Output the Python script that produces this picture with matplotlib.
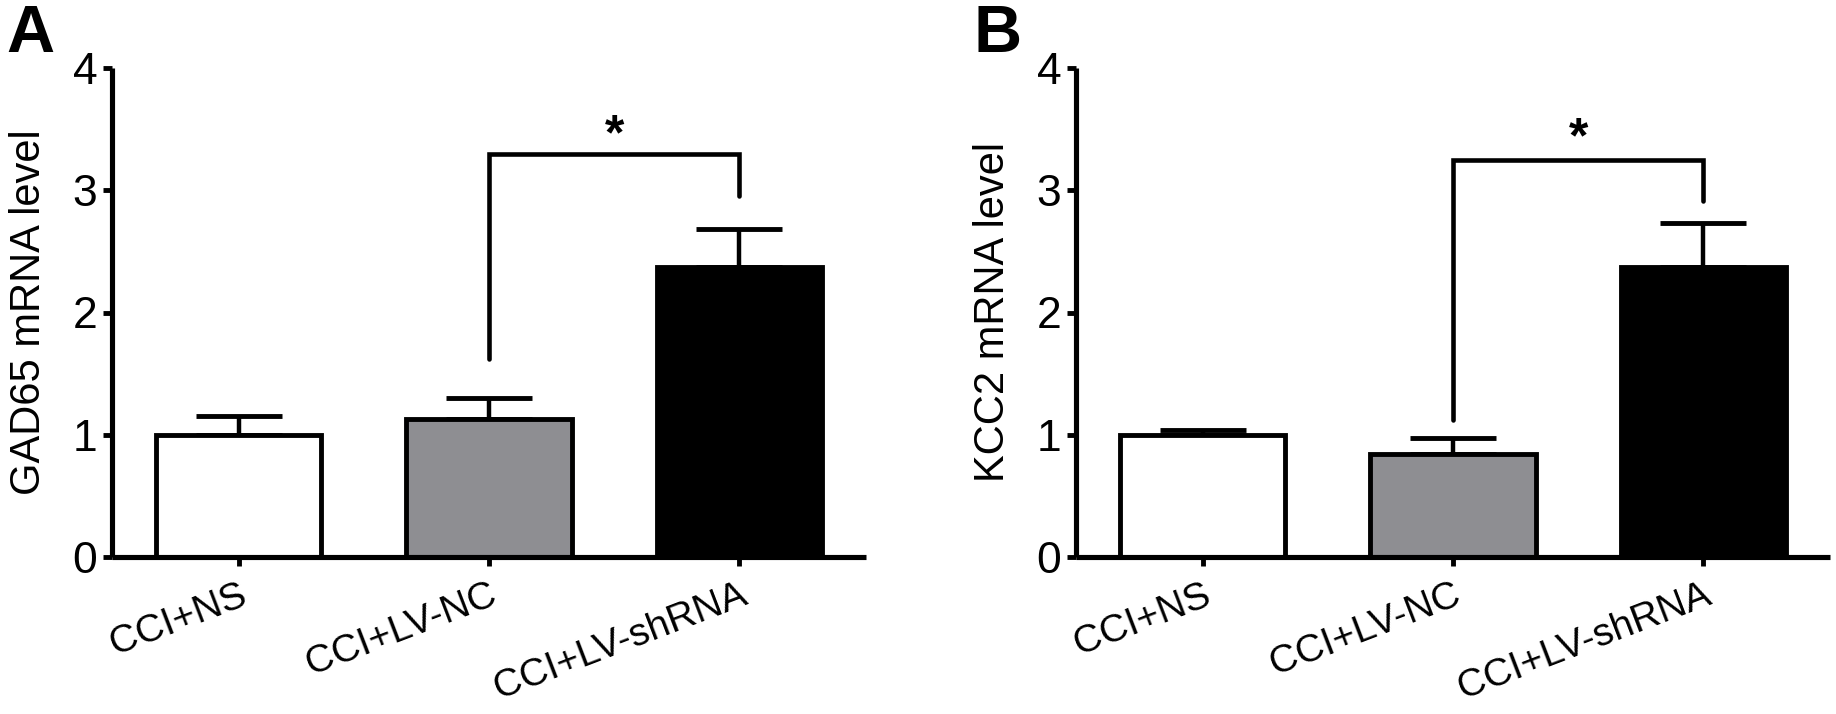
import matplotlib
matplotlib.use("Agg")
import matplotlib.pyplot as plt

plt.rcParams['font.family'] = ['Liberation Sans', 'DejaVu Sans']

categories = ["CCI+NS", "CCI+LV-NC", "CCI+LV-shRNA"]
bar_colors = ["#ffffff", "#8e8e92", "#000000"]
yticks = [0, 1, 2, 3, 4]

gad65_mean = [1.00, 1.13, 2.37]
gad65_sem = [0.15, 0.17, 0.31]
kcc2_mean = [1.00, 0.84, 2.37]
kcc2_sem = [0.04, 0.13, 0.36]

# significance brackets: (left bar, right bar, top y, left leg bottom, right leg bottom, star y)
gad65_sig = (1, 2, 3.30, 1.62, 2.95, 3.44)
kcc2_sig = (1, 2, 3.25, 1.12, 2.91, 3.42)

W, H = 1836, 714
fig = plt.figure(figsize=(W / 100, H / 100), dpi=100)

LW = 3.5


def panel(left_px, mean, sem, sig, ylabel, letter, letter_x):
    ax = fig.add_axes([left_px / W, 1 - 557 / H, 754 / W, (557 - 68) / H])
    x = list(range(len(categories)))
    ax.bar(x, mean, width=0.66, color=bar_colors, edgecolor="black",
           linewidth=LW, zorder=2)
    ax.errorbar(x, mean, yerr=[[0] * len(sem), sem], fmt="none", ecolor="black",
                elinewidth=3.2, capsize=31, capthick=3.5, zorder=1)
    l, r, ytop, ylb, yrb, ystar = sig
    ax.plot([l, l, r, r], [ylb, ytop, ytop, yrb], color="black", lw=3.3,
            solid_capstyle="round", solid_joinstyle="miter", zorder=3)
    ax.text((l + r) / 2, ystar, "*", ha="center", va="center",
            fontsize=36, fontweight="bold")
    ax.set_xlim(-0.505, 2.505)
    ax.set_ylim(0, 4)
    ax.set_yticks(yticks)
    ax.set_yticklabels([str(t) for t in yticks])
    ax.set_xticks(x)
    ax.set_xticklabels(categories, rotation=21, ha="right", va="top",
                       rotation_mode="anchor")
    for s in ["top", "right"]:
        ax.spines[s].set_visible(False)
    for s in ["left", "bottom"]:
        ax.spines[s].set_linewidth(3.7)
        ax.spines[s].set_capstyle("butt")
    ax.tick_params(axis="y", length=6.5, width=3.5, labelsize=32, pad=4)
    ax.tick_params(axis="x", length=6.5, width=3.5, labelsize=28, pad=8)
    ax.set_ylabel(ylabel, fontsize=30)
    ax.yaxis.set_label_coords(-0.084, 0.5)
    fig.text(letter_x / W, 1 - 52 / H, letter, fontsize=48, fontweight="bold",
             ha="left", va="baseline")
    return ax


panel(112, gad65_mean, gad65_sem, gad65_sig, "GAD65 mRNA level", "A", 6)
panel(1076, kcc2_mean, kcc2_sem, kcc2_sig, "KCC2 mRNA level", "B", 973)

fig.savefig("out.png", dpi=100, facecolor="white")
